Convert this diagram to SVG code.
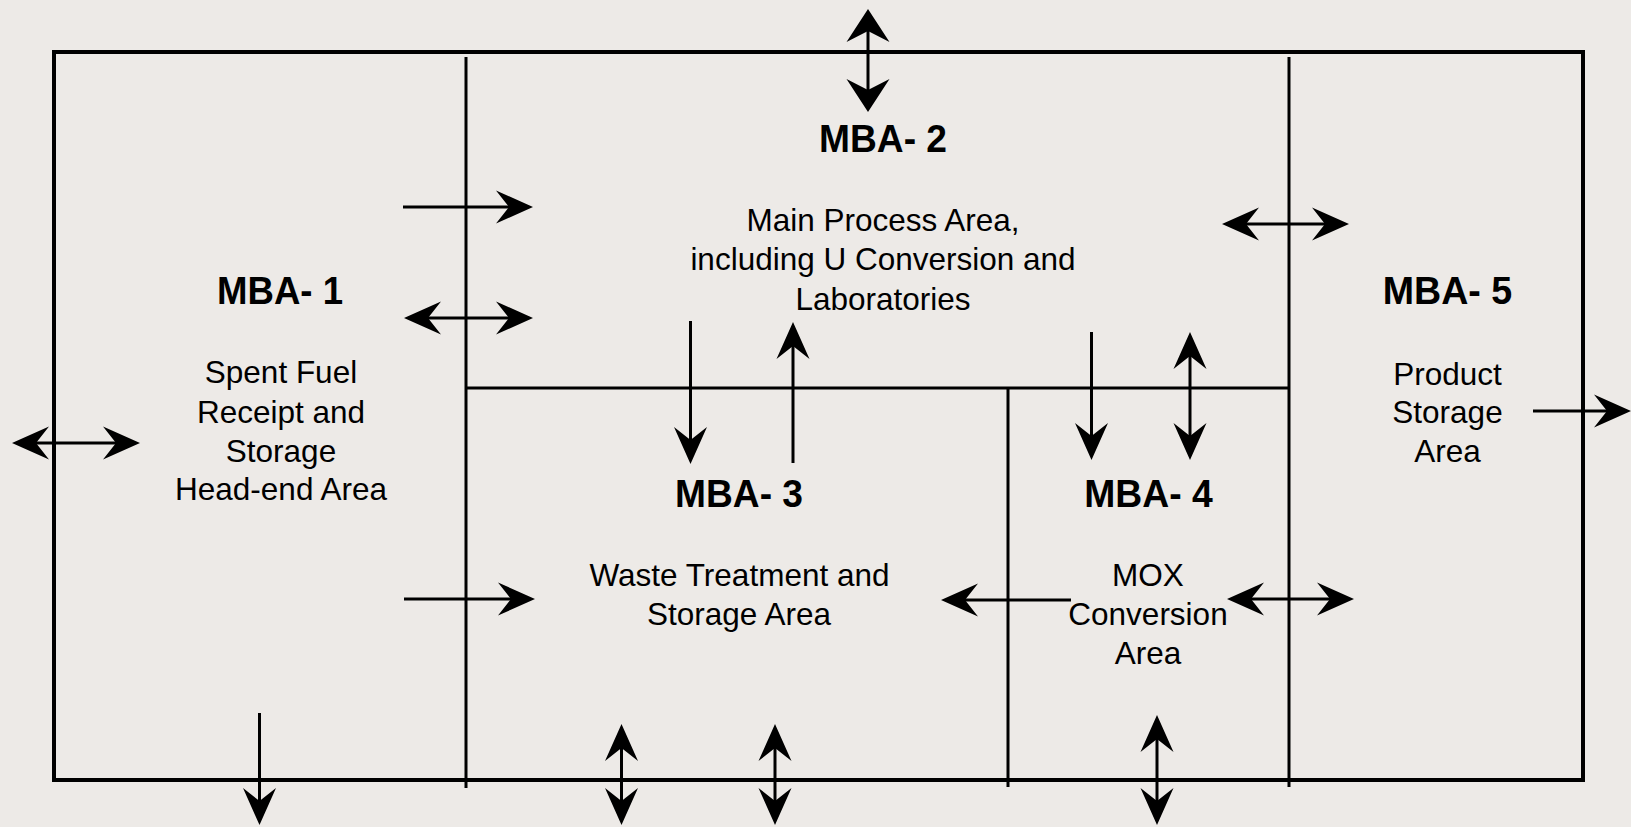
<svg xmlns="http://www.w3.org/2000/svg" width="1631" height="827" viewBox="0 0 1631 827">
<style>
.wall{stroke:#000;stroke-width:3;fill:none}
.outer{stroke:#000;stroke-width:4;fill:none}
.conn{stroke:#000;stroke-width:3;fill:none;marker-end:url(#ah)}
.dbl{marker-start:url(#ah)}
.title{font-family:"Liberation Sans",Arial,sans-serif;font-weight:bold;font-size:38px;text-anchor:middle;fill:#000}
.body{font-family:"Liberation Sans",Arial,sans-serif;font-size:31.5px;text-anchor:middle;fill:#000}
</style>
<defs>
<marker id="ah" viewBox="-30 -20 44 40" refX="0" refY="0" markerWidth="44" markerHeight="40" markerUnits="userSpaceOnUse" orient="auto-start-reverse">
<path d="M10,0 L-27,-16.5 L-14,0 L-27,16.5 Z" fill="#000"/>
</marker>
<marker id="ahb" viewBox="-30 -25 44 50" refX="0" refY="0" markerWidth="44" markerHeight="50" markerUnits="userSpaceOnUse" orient="auto-start-reverse">
<path d="M10,0 L-23,-21.5 L-12,0 L-23,21.5 Z" fill="#000"/>
</marker>
</defs>
<rect width="1631" height="827" fill="#EDEAE7"/>
<g id="walls">
<rect class="outer" x="54" y="52" width="1529" height="728"/>
<line class="wall" x1="466" y1="57" x2="466" y2="788"/>
<line class="wall" x1="1289" y1="57" x2="1289" y2="787"/>
<line class="wall" x1="466" y1="388" x2="1289" y2="388"/>
<line class="wall" x1="1008" y1="388" x2="1008" y2="787"/>
</g>
<g id="mba1">
<text class="title" x="280" y="304" textLength="126" lengthAdjust="spacingAndGlyphs">MBA- 1</text>
<text class="body" x="281" y="383">Spent Fuel</text>
<text class="body" x="281" y="422.5">Receipt and</text>
<text class="body" x="281" y="461.5">Storage</text>
<text class="body" x="281" y="499.5">Head-end Area</text>
</g>
<g id="mba2">
<text class="title" x="883" y="151.5" textLength="128" lengthAdjust="spacingAndGlyphs">MBA- 2</text>
<text class="body" x="883" y="231">Main Process Area,</text>
<text class="body" x="883" y="270">including U Conversion and</text>
<text class="body" x="883" y="310">Laboratories</text>
</g>
<g id="mba3">
<text class="title" x="739" y="506.5" textLength="128" lengthAdjust="spacingAndGlyphs">MBA- 3</text>
<text class="body" x="739.5" y="586">Waste Treatment and</text>
<text class="body" x="739" y="625">Storage Area</text>
</g>
<g id="mba4">
<text class="title" x="1148.5" y="506.5" textLength="128.5" lengthAdjust="spacingAndGlyphs">MBA- 4</text>
<text class="body" x="1148" y="585.5">MOX</text>
<text class="body" x="1148" y="625">Conversion</text>
<text class="body" x="1148" y="664">Area</text>
</g>
<g id="mba5">
<text class="title" x="1447.5" y="304" textLength="129.5" lengthAdjust="spacingAndGlyphs">MBA- 5</text>
<text class="body" x="1447.5" y="385">Product</text>
<text class="body" x="1447.5" y="423.3">Storage</text>
<text class="body" x="1447.5" y="461.7">Area</text>
</g>
<g id="connectors">
<line class="conn" x1="868" y1="19" x2="868" y2="102" style="marker-start:url(#ahb);marker-end:url(#ahb)"/>
<line class="conn" x1="403" y1="207" x2="523" y2="207"/>
<line class="conn dbl" x1="414" y1="318" x2="523" y2="318"/>
<line class="conn dbl" x1="22" y1="443" x2="130" y2="443"/>
<line class="conn" x1="404" y1="599" x2="525" y2="599"/>
<line class="conn" x1="259.5" y1="713" x2="259.5" y2="815"/>
<line class="conn" x1="690.5" y1="321" x2="690.5" y2="454"/>
<line class="conn" x1="793" y1="463" x2="793" y2="332"/>
<line class="conn" x1="1091.5" y1="332" x2="1091.5" y2="450"/>
<line class="conn dbl" x1="1190" y1="342" x2="1190" y2="450"/>
<line class="conn dbl" x1="1232" y1="224" x2="1339" y2="224"/>
<line class="conn" x1="1533" y1="411" x2="1621" y2="411"/>
<line class="conn" x1="1071" y1="600" x2="951" y2="600"/>
<line class="conn dbl" x1="1237" y1="599" x2="1344" y2="599"/>
<line class="conn dbl" x1="621.5" y1="734" x2="621.5" y2="815"/>
<line class="conn dbl" x1="775" y1="734" x2="775" y2="815"/>
<line class="conn dbl" x1="1157" y1="725" x2="1157" y2="815"/>
</g>
</svg>
